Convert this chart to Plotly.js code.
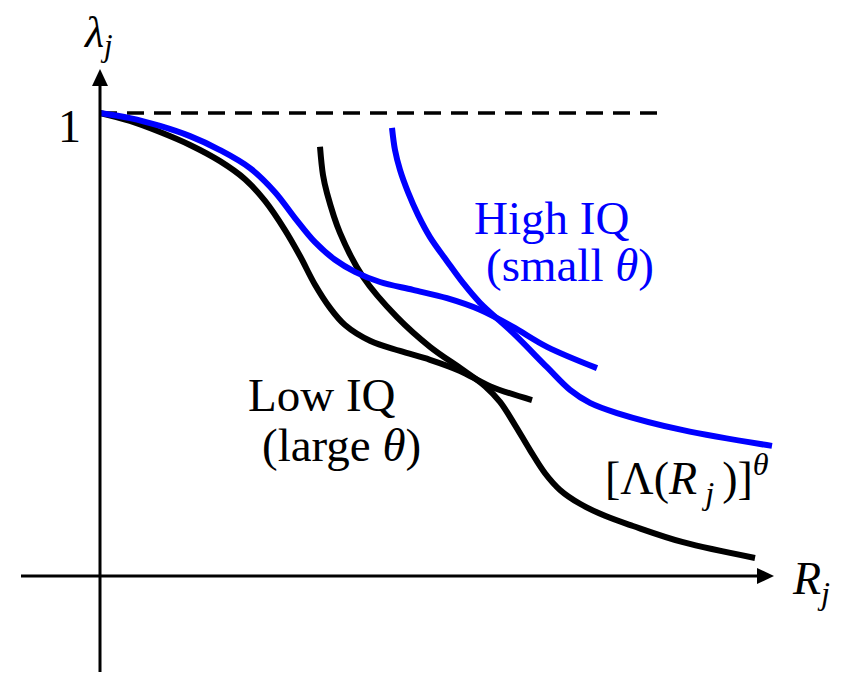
<!DOCTYPE html>
<html>
<head>
<meta charset="utf-8">
<script src="https://cdn.plot.ly/plotly-3.0.1.min.js"></script>
<style>
  html, body { margin: 0; padding: 0; background: #fff; }
  #chart { width: 841px; height: 673px; }
</style>
</head>
<body>
<div id="chart"></div>
<script>
// ---- Data (R_j on x, lambda_j on y; lambda = 1 at the dashed line) ----
// Lambda curve, low IQ (large theta) - black, starting at (0,1)
const lowLambdaR  = [0, 0.30, 0.60, 0.90, 1.20, 1.45, 1.65, 1.85, 2.00, 2.15, 2.30, 2.45, 2.70, 3.00, 3.30, 3.60, 3.90, 4.32];
const lowLambdaL  = [1.000, 0.983, 0.959, 0.931, 0.896, 0.857, 0.810, 0.747, 0.691, 0.629, 0.579, 0.542, 0.508, 0.486, 0.467, 0.443, 0.410, 0.380];
// [Lambda(R_j)]^theta curve, low IQ - black
const lowIndR     = [2.20, 2.23, 2.27, 2.40, 2.63, 2.97, 3.30, 3.63, 3.85, 4.00, 4.15, 4.30, 4.45, 4.60, 4.80, 5.05, 5.33, 5.83, 6.55];
const lowIndL     = [0.927, 0.866, 0.827, 0.741, 0.646, 0.559, 0.495, 0.445, 0.410, 0.376, 0.326, 0.272, 0.222, 0.186, 0.156, 0.130, 0.108, 0.073, 0.039];
// Lambda curve, high IQ (small theta) - blue, starting at (0,1)
const highLambdaR = [0, 0.30, 0.60, 0.90, 1.20, 1.50, 1.75, 1.95, 2.15, 2.35, 2.55, 2.80, 3.13, 3.47, 3.80, 4.13, 4.47, 4.97];
const highLambdaL = [1.000, 0.989, 0.972, 0.950, 0.920, 0.881, 0.829, 0.773, 0.721, 0.683, 0.657, 0.635, 0.618, 0.600, 0.575, 0.538, 0.495, 0.449];
// [Lambda(R_j)]^theta curve, high IQ - blue
const highIndR    = [2.92, 2.95, 3.00, 3.08, 3.18, 3.30, 3.47, 3.63, 3.80, 4.13, 4.47, 4.70, 4.90, 5.17, 5.83, 6.72];
const highIndL    = [0.968, 0.920, 0.877, 0.829, 0.780, 0.732, 0.680, 0.633, 0.590, 0.525, 0.451, 0.402, 0.374, 0.352, 0.315, 0.281];
// Dashed reference level lambda = 1
const refR = [0, 5.62];
const refL = [1, 1];

// ---- helpers for placing decorations / labels (pixel -> data) ----
const px2x = p => (p - 100) / 100;
const py2y = p => (576 - p) / 463;

const serif = '"Liberation Serif", "Times New Roman", serif';

const traces = [
  { x: refR, y: refL, mode: 'lines', line: { color: '#000', width: 3.5, dash: '17px,10px' }, hoverinfo: 'skip' },
  { x: lowLambdaR, y: lowLambdaL, mode: 'lines', line: { color: '#000', width: 6, shape: 'spline', smoothing: 1 }, hoverinfo: 'skip' },
  { x: lowIndR, y: lowIndL, mode: 'lines', line: { color: '#000', width: 6, shape: 'spline', smoothing: 1 }, hoverinfo: 'skip' },
  { x: highLambdaR, y: highLambdaL, mode: 'lines', line: { color: '#0000FF', width: 6, shape: 'spline', smoothing: 1 }, hoverinfo: 'skip' },
  { x: highIndR, y: highIndL, mode: 'lines', line: { color: '#0000FF', width: 6, shape: 'spline', smoothing: 1 }, hoverinfo: 'skip' }
];

const tri = (pts) => 'M ' + pts.map(p => px2x(p[0]) + ',' + py2y(p[1])).join(' L ') + ' Z';

const shapes = [
  // x axis line
  { type: 'line', xref: 'x', yref: 'y', x0: px2x(21), x1: px2x(760), y0: 0, y1: 0, line: { color: '#000', width: 3 } },
  // y axis line
  { type: 'line', xref: 'x', yref: 'y', x0: 0, x1: 0, y0: py2y(672), y1: py2y(82), line: { color: '#000', width: 3 } },
  // arrow heads
  { type: 'path', xref: 'x', yref: 'y', path: tri([[774, 576], [757, 568], [757, 584]]), fillcolor: '#000', line: { width: 0 } },
  { type: 'path', xref: 'x', yref: 'y', path: tri([[100, 69], [92, 86], [108, 86]]), fillcolor: '#000', line: { width: 0 } }
];

const label = (text, cx, cy, size, color) => ({
  x: px2x(cx), y: py2y(cy), xref: 'x', yref: 'y', text: text, showarrow: false,
  xanchor: 'center', yanchor: 'middle',
  font: { family: serif, size: size, color: color || '#000' }
});

const layout = {
  width: 841, height: 673,
  margin: { l: 0, r: 0, t: 0, b: 0, pad: 0 },
  paper_bgcolor: '#fff', plot_bgcolor: '#fff',
  showlegend: false,
  xaxis: { visible: false, range: [px2x(0), px2x(841)], fixedrange: true },
  yaxis: { visible: false, range: [py2y(673), py2y(0)], fixedrange: true },
  shapes: shapes,
  annotations: [
    label('<i>λ<sub>j</sub></i>', 98, 35, 44),
    label('1', 69, 126, 46),
    label('<i>R<sub>j</sub></i>', 811, 582, 46),
    label('High IQ', 551, 218, 47, '#0000FF'),
    label('(small <i>θ</i>)', 570, 265, 47, '#0000FF'),
    label('Low IQ', 322, 395, 47),
    label('(large <i>θ</i>)', 341, 445, 47),
    label('[Λ(<i>R</i><sub> <i>j</i> </sub>)]<sup><i>θ</i></sup>', 687, 478, 46)
  ]
};

Plotly.newPlot('chart', traces, layout, { displayModeBar: false, staticPlot: true });
</script>
</body>
</html>
